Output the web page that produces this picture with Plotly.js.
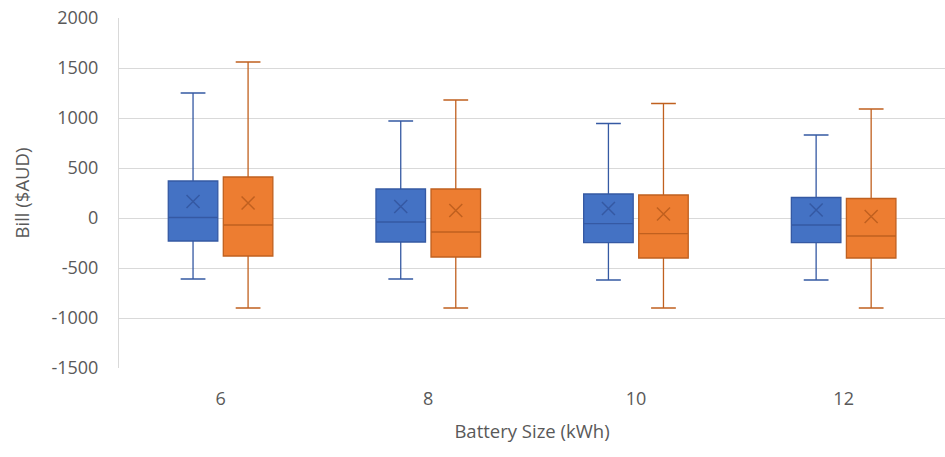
<!DOCTYPE html>
<html>
<head>
<meta charset="utf-8">
<script src="https://cdn.plot.ly/plotly-3.0.1.min.js"></script>
<style>html,body{margin:0;padding:0;background:#fff;}#chart{width:945px;height:457px;}</style>
</head>
<body>
<div id="chart"></div>
<script>
// Categories (battery sizes, kWh)
const categories = ['6', '8', '10', '12'];

// Series A (blue)
const blueLower  = [-610, -610, -620, -620];
const blueQ1     = [-230, -240, -247, -247];
const blueMedian = [5, -40, -57, -70];
const blueQ3     = [370, 290, 240, 205];
const blueUpper  = [1250, 970, 945, 830];
const blueMean   = [165, 115, 95, 80];

// Series B (orange)
const orangeLower  = [-900, -900, -900, -900];
const orangeQ1     = [-380, -390, -400, -400];
const orangeMedian = [-70, -140, -157, -180];
const orangeQ3     = [410, 290, 230, 195];
const orangeUpper  = [1560, 1180, 1145, 1090];
const orangeMean   = [150, 75, 40, 15];

const yTicks = [-1500, -1000, -500, 0, 500, 1000, 1500, 2000];

const blue = '#4472C4', blueLine = '#3559a3';
const orange = '#ED7D31', orangeLine = '#c0601f';

function boxTrace(name, lo, q1, med, q3, hi, fill, line, grp) {
  return {
    type: 'box', name: name, x: categories,
    lowerfence: lo, q1: q1, median: med, q3: q3, upperfence: hi,
    fillcolor: fill, line: {color: line, width: 1.3},
    whiskerwidth: 0.5, offsetgroup: grp, boxpoints: false,
    hoverinfo: 'y'
  };
}
function meanTrace(name, mean, line, grp) {
  return {
    type: 'scatter', mode: 'markers', name: name, x: categories, y: mean,
    offsetgroup: grp,
    marker: {symbol: 'x-thin-open', size: 13, line: {color: line, width: 1.5}, color: line},
    hoverinfo: 'y'
  };
}

const data = [
  boxTrace('A', blueLower, blueQ1, blueMedian, blueQ3, blueUpper, blue, blueLine, 'a'),
  boxTrace('B', orangeLower, orangeQ1, orangeMedian, orangeQ3, orangeUpper, orange, orangeLine, 'b'),
  meanTrace('A mean', blueMean, blueLine, 'a'),
  meanTrace('B mean', orangeMean, orangeLine, 'b')
];

const fontFam = 'Open Sans, Liberation Sans, sans-serif';
const txt = '#595959';
const layout = {
  width: 945, height: 457,
  margin: {l: 119, r: 0, t: 18, b: 89},
  paper_bgcolor: '#ffffff', plot_bgcolor: '#ffffff',
  showlegend: false,
  boxmode: 'group', boxgap: 0.47, boxgroupgap: 0.1,
  scattermode: 'group', scattergap: 0.47,
  font: {family: fontFam, color: txt, size: 18},
  xaxis: {
    type: 'category', categoryorder: 'array', categoryarray: categories,
    range: [-0.489, 3.488],
    showgrid: false, zeroline: false, showline: false, ticks: '',
    tickfont: {size: 18, color: txt},
    ticklabelstandoff: 18,
    title: {text: 'Battery Size (kWh)', font: {size: 18.5, color: txt}, standoff: 16}
  },
  yaxis: {
    range: [-1500, 2000], tickvals: yTicks, ticktext: yTicks.map(String),
    showgrid: true, gridcolor: '#d9d9d9', gridwidth: 1,
    zeroline: false, showline: true, linecolor: '#d9d9d9', linewidth: 1,
    ticks: '', ticklabelstandoff: 16,
    tickfont: {size: 18, color: txt},
    title: {text: 'Bill ($AUD)', font: {size: 18.5, color: txt}, standoff: 16}
  }
};

Plotly.newPlot('chart', data, layout, {displayModeBar: false, staticPlot: true});
</script>
</body>
</html>
